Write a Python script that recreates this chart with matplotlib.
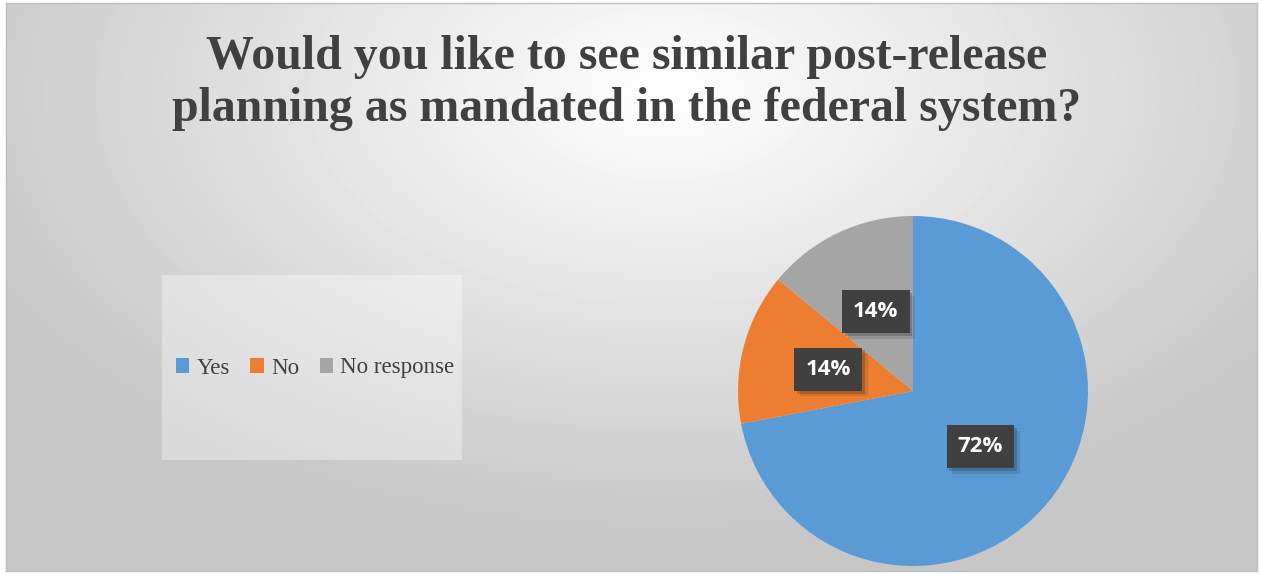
import numpy as np
import matplotlib
matplotlib.use("Agg")
import matplotlib.pyplot as plt
import matplotlib.patheffects as pe
from matplotlib.patches import Rectangle, Patch

# data
labels = ["Yes", "No", "No response"]
shares = [72, 14, 14]
colors = ["#5B9BD5", "#ED7D31", "#A5A5A5"]
title = "Would you like to see similar post-release\nplanning as mandated in the federal system?"

W, H = 1261, 575
fig = plt.figure(figsize=(W / 100, H / 100), dpi=100)
fig.patch.set_facecolor("white")

# chart area with radial grey gradient
bg = fig.add_axes([6 / W, 1 - 571 / H, 1251 / W, 568 / H])
yy, xx = np.mgrid[0:568, 0:1251]
d = np.sqrt(((xx - 660) / 950.0) ** 2 + ((yy - 90) / 560.0) ** 2)
val = np.clip(1.0 - 0.28 * d, 0.78, 1.0)
bg.imshow(val, cmap="gray", vmin=0, vmax=1, aspect="auto", interpolation="bilinear")
bg.set_xticks([])
bg.set_yticks([])
for s in bg.spines.values():
    s.set_color("#bfbfbf")
    s.set_linewidth(1)

# title
fig.text(0.497, 1 - 83 / H, title, ha="center", va="center", fontsize=34.5,
         fontweight="bold", family="Liberation Serif", color="#404040",
         linespacing=1.22)

# legend box area
fig.patches.append(Rectangle((162 / W, 1 - 460 / H), 300 / W, 185 / H,
                             transform=fig.transFigure, facecolor="white",
                             alpha=0.35, edgecolor="none", zorder=1))
handles = [Patch(facecolor=c, edgecolor="none") for c in colors]
leg = fig.legend(handles, labels, loc="center", bbox_to_anchor=(315 / W, 1 - 368 / H),
                 ncol=3, frameon=False, handlelength=0.6, handleheight=0.6,
                 handletextpad=0.3, columnspacing=0.9,
                 prop={"family": "Liberation Serif", "size": 16.5})
for t in leg.get_texts():
    t.set_color("#404040")

# pie
cx, cy, r = 913, 391, 175
ax = fig.add_axes([(cx - r) / W, 1 - (cy + r) / H, 2 * r / W, 2 * r / H])
ax.patch.set_alpha(0)
wedges, texts, autotexts = ax.pie(shares, colors=colors, startangle=90, counterclock=False,
                                  radius=1, autopct="%1.0f%%", pctdistance=0.5,
                                  wedgeprops={"linewidth": 0})
ax.set_xlim(-1, 1)
ax.set_ylim(-1, 1)
ax.set_aspect("equal")
for t in autotexts:
    t.set_color("white")
    t.set_fontsize(16)
    t.set_fontweight("bold")
    t.set_family("Open Sans")
    t.set_bbox(dict(boxstyle="square,pad=0.5", facecolor="#404040", edgecolor="none"))
    t.get_bbox_patch().set_path_effects([pe.SimplePatchShadow(offset=(4, -4), alpha=0.12),
                                         pe.SimplePatchShadow(offset=(2, -2), alpha=0.2),
                                         pe.Normal()])

fig.savefig("out.png", dpi=100)
